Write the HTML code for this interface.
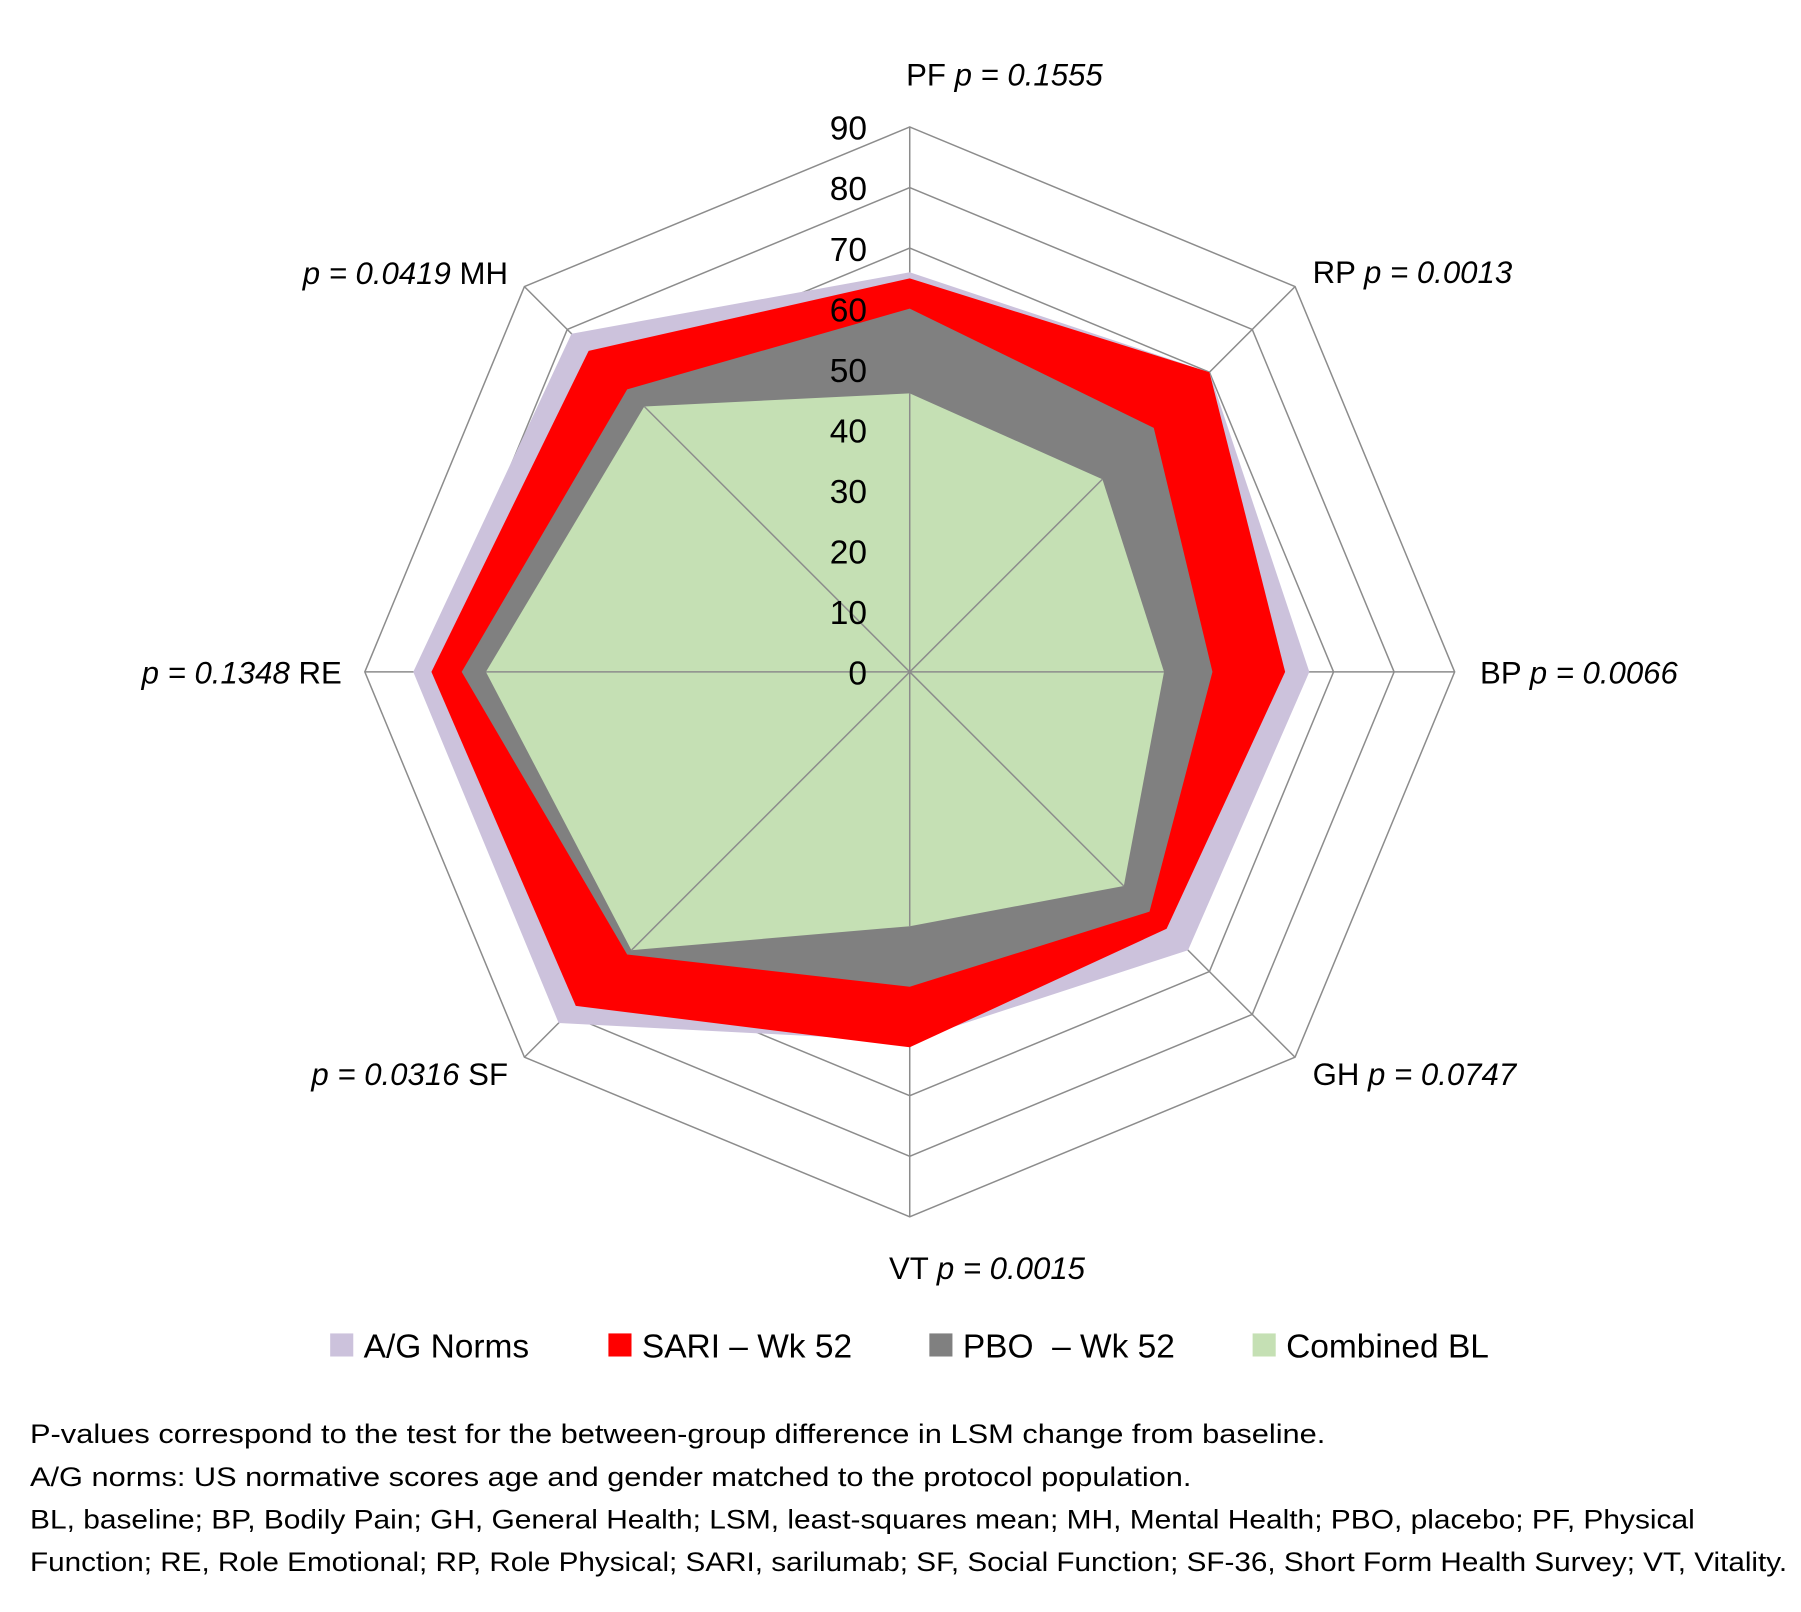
<!DOCTYPE html>
<html><head><meta charset="utf-8"><style>
html,body{margin:0;padding:0;background:#fff;}
svg{display:block;font-family:"Liberation Sans",Arial,sans-serif;}
</style></head><body>
<svg id="chart" width="1801" height="1612" viewBox="0 0 1560 1396.3" preserveAspectRatio="none" xmlns="http://www.w3.org/2000/svg">
<g id="grid"></g>
<g id="series"></g>
<g id="spokesTop"></g>
<g id="ticks" font-size="29" fill="#000" text-anchor="end"></g>
<g id="axisLabels" font-size="27" fill="#000"></g>
<g id="legend" font-size="29" fill="#000"></g>
<g font-size="23" fill="#000">
<text x="26" y="1250" textLength="1122" lengthAdjust="spacingAndGlyphs">P-values correspond to the test for the between-group difference in LSM change from baseline.</text>
<text x="26" y="1287" textLength="1006" lengthAdjust="spacingAndGlyphs">A/G norms: US normative scores age and gender matched to the protocol population.</text>
<text x="26" y="1324" textLength="1442" lengthAdjust="spacingAndGlyphs">BL, baseline; BP, Bodily Pain; GH, General Health; LSM, least-squares mean; MH, Mental Health; PBO, placebo; PF, Physical</text>
<text x="26" y="1361" textLength="1522" lengthAdjust="spacingAndGlyphs">Function; RE, Role Emotional; RP, Role Physical; SARI, sarilumab; SF, Social Function; SF-36, Short Form Health Survey; VT, Vitality.</text>
</g>
</svg>
<script>
const categories = ["PF","RP","BP","GH","VT","SF","RE","MH"];
const pValues = ["0.1555","0.0013","0.0066","0.0747","0.0015","0.0316","0.1348","0.0419"];
const normsValues = [66, 70, 66, 65, 61, 82, 82, 79];
const sariValues  = [65, 70, 62, 60, 62, 78, 79, 75];
const pboValues   = [60, 57, 50, 56, 52, 66, 74, 66];
const blValues    = [46, 45, 42, 50, 42, 65, 70, 62];
const tickValues = [0,10,20,30,40,50,60,70,80,90];
const seriesNames = ["A/G Norms","SARI \u2013 Wk 52","PBO  \u2013 Wk 52","Combined BL"];

const NS="http://www.w3.org/2000/svg";
const CX=788, CY=582, R=472, MAX=90;
function rScale(v){return v/MAX*R;}
function ang(i){return -Math.PI/2 + i*2*Math.PI/categories.length;}
function pt(i,v){const a=ang(i),r=rScale(v);return [CX+r*Math.cos(a), CY+r*Math.sin(a)];}
function mk(tag,attrs,parent){const e=document.createElementNS(NS,tag);for(const k in attrs)e.setAttribute(k,attrs[k]);parent.appendChild(e);return e;}

const grid=document.getElementById('grid');
tickValues.forEach(t=>{
  if(t===0)return;
  const pts=categories.map((c,i)=>pt(i,t).join(',')).join(' ');
  const ring=mk('polygon',{points:pts,fill:'none',stroke:'#8c8c8c','stroke-width':1.3},grid);
  
  
});
categories.forEach((c,i)=>{
  const p=pt(i,MAX);
  const s=mk('line',{x1:CX,y1:CY,x2:p[0],y2:p[1],stroke:'#8c8c8c','stroke-width':1.3},grid);
  
  
});

const ser=document.getElementById('series');
const all=[[normsValues,'#ccc2dc','norms'],[sariValues,'#ff0000','sari'],[pboValues,'#808080','pbo'],[blValues,'#c5e0b4','baseline']];
all.forEach(([vals,col,nm])=>{
  const pts=vals.map((v,i)=>pt(i,v).join(',')).join(' ');
  const poly=mk('polygon',{points:pts,fill:col},ser);
  
  
});
const st=document.getElementById('spokesTop');
categories.forEach((c,i)=>{
  const p=pt(i,blValues[i]);
  const s=mk('line',{x1:CX,y1:CY,x2:p[0],y2:p[1],stroke:'#8c8c8c','stroke-width':1.3},st);
  
  
});

const tk=document.getElementById('ticks');
tickValues.forEach(t=>{
  const e=mk('text',{x:751,y:CY-rScale(t)+11},tk);
  e.textContent=t;
  
  
});

const labelPos=[[870,74,'middle',false],[1137,245,'start',false],[1282,592,'start',false],[1137,940,'start',false],[770,1108,'start',false],[440,940,'end',true],[296,592,'end',true],[440,246,'end',true]];
const al=document.getElementById('axisLabels');
categories.forEach((c,i)=>{
  const [x,y,anc,pf]=labelPos[i];
  const t=mk('text',{x:x,y:y,'text-anchor':anc},al);
  
  
  const a=document.createElementNS(NS,'tspan');
  const b=document.createElementNS(NS,'tspan');
  b.setAttribute('font-style','italic');
  if(pf){b.textContent='p = '+pValues[i]+'  ';a.textContent=c;t.appendChild(b);t.appendChild(a);}
  else{a.textContent=c+' ';b.textContent='p = '+pValues[i];t.appendChild(a);t.appendChild(b);}
});

const lg=document.getElementById('legend');
const legX=[286,527,805,1085];
const legCol=['#ccc2dc','#ff0000','#808080','#c5e0b4'];
seriesNames.forEach((n,i)=>{
  const g=mk('g',{},lg);
  
  
  mk('rect',{x:legX[i],y:1155,width:20,height:20,fill:legCol[i]},g);
  const t=mk('text',{x:legX[i]+29,y:1176},g);
  t.textContent=n;
  t.setAttribute('xml:space','preserve');
  t.style.whiteSpace='pre';
});
</script>
</body></html>
